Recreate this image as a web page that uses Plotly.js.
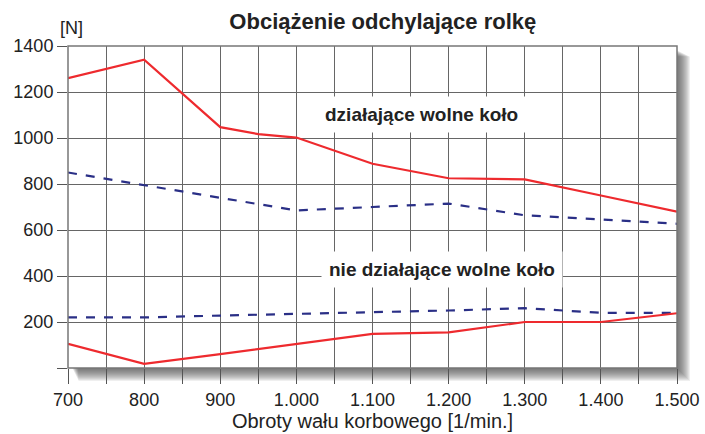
<!DOCTYPE html>
<html><head><meta charset="utf-8">
<script src="https://cdn.plot.ly/plotly-3.0.1.min.js"></script>
<style>html,body{margin:0;padding:0;background:#fff}#c{width:705px;height:434px}</style>
</head><body><div id="c"></div>
<script>
const rpm = [700, 800, 900, 950, 1000, 1100, 1200, 1300, 1400, 1500];
const activeRed = [1260, 1340, 1047, 1017, 1002, 888, 825, 820, 750, 680];
const rpmB = [700, 800, 900, 1000, 1100, 1200, 1300, 1350, 1400, 1500];
const activeBlue = [850, 795, 742, 685, 700, 715, 664, 655, 645, 627];
const inactiveBlue = [220, 220, 228, 235, 245, 250, 260, 250, 240, 240];
const rpmL = [700, 800, 900, 1000, 1100, 1200, 1300, 1400, 1500];
const inactiveRed = [105, 18, 60, 105, 148, 155, 200, 200, 238];
const xTickVals = [700, 800, 900, 1000, 1100, 1200, 1300, 1400, 1500];
const xTickText = ['700', '800', '900', '1.000', '1.100', '1.200', '1.300', '1.400', '1.500'];
const yTickVals = [0, 200, 400, 600, 800, 1000, 1200, 1400];
const yTickText = ['', '200', '400', '600', '800', '1000', '1200', '1400'];

const red = '#ee2a2e', blue = '#2a2f86';
const traces = [
  {x: rpm, y: activeRed, mode: 'lines', line: {color: red, width: 2.2}},
  {x: rpmB, y: activeBlue, mode: 'lines', line: {color: blue, width: 2.2, dash: 'dash'}},
  {x: rpmB, y: inactiveBlue, mode: 'lines', line: {color: blue, width: 2.2, dash: 'dash'}},
  {x: rpmL, y: inactiveRed, mode: 'lines', line: {color: red, width: 2.2}}
];
const PW = 609, PH = 322;
const shapes = [];
for (let k = 1; k <= 13; k++) {
  shapes.push({type: 'rect', xref: 'paper', yref: 'paper', layer: 'below',
    x0: (4 + k * 0.5) / PW, x1: 1 + k / PW, y0: -k / PH, y1: 1 - (4 + k * 0.5) / PH,
    fillcolor: 'rgba(70,70,70,0.085)', line: {width: 0}});
}
shapes.push({type: 'rect', xref: 'paper', yref: 'paper', layer: 'below',
  x0: 0, x1: 1, y0: 0, y1: 1, fillcolor: '#fff', line: {width: 0}});
shapes.push({type: 'rect', xref: 'paper', yref: 'paper', layer: 'above',
  x0: 0, x1: 1, y0: 0, y1: 1, fillcolor: 'rgba(0,0,0,0)', line: {color: '#777', width: 1.5}});

const layout = {
  width: 705, height: 434,
  margin: {l: 68, r: 28, t: 46, b: 66},
  paper_bgcolor: '#fff', plot_bgcolor: 'rgba(0,0,0,0)',
  showlegend: false,
  font: {family: 'Liberation Sans, Arial, sans-serif', color: '#222'},
  title: {text: '<b>Obciążenie odchylające rolkę</b>', x: 0.543, xanchor: 'center', y: 0.95, yanchor: 'middle',
    font: {size: 22, color: '#222'}},
  xaxis: {range: [700, 1500], tickvals: xTickVals, ticktext: xTickText, showgrid: true,
    gridcolor: '#666', gridwidth: 1, ticks: 'outside', ticklen: 15, tickcolor: '#555', tickwidth: 1,
    zeroline: false, showline: false, tickfont: {size: 18, color: '#222'},
    minor: {tickvals: [750, 850, 950, 1050, 1150, 1250, 1350, 1450], showgrid: true, gridcolor: '#666', gridwidth: 1,
      ticks: 'outside', ticklen: 15, tickcolor: '#555'},
    title: {text: 'Obroty wału korbowego [1/min.]', font: {size: 20, color: '#222'}, standoff: 4}},
  yaxis: {range: [0, 1400], tickvals: yTickVals, ticktext: yTickText, showgrid: true,
    gridcolor: '#666', gridwidth: 1, ticks: 'outside', ticklen: 10, tickcolor: '#555',
    zeroline: false, showline: false, tickfont: {size: 18, color: '#222'}},
  shapes: shapes,
  annotations: [
    {xref: 'paper', yref: 'paper', x: -0.017, y: 1.02, xanchor: 'left', yanchor: 'bottom',
      text: '[N]', showarrow: false, font: {size: 18, color: '#222'}},
    {x: 1164, y: 1103, text: '<b>działające wolne koło</b>', showarrow: false, bgcolor: '#fff',
      borderpad: 7, font: {size: 19, color: '#222'}},
    {x: 1191, y: 427, text: '<b>nie działające wolne koło</b>', showarrow: false, bgcolor: '#fff',
      borderpad: 7, font: {size: 19, color: '#222'}}
  ]
};
Plotly.newPlot('c', traces, layout, {displayModeBar: false, staticPlot: true});
</script></body></html>
